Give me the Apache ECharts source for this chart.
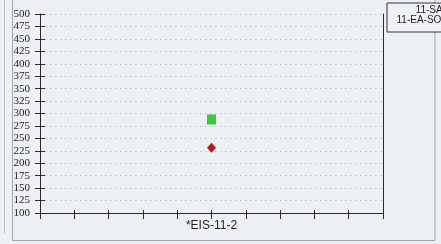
<!DOCTYPE html>
<html>
<head>
<meta charset="utf-8">
<script src="https://cdn.jsdelivr.net/npm/echarts@6/dist/echarts.min.js"></script>
<style>
html,body{margin:0;padding:0;background:#edf1f4;}
#chart{width:441px;height:244px;}
</style>
</head>
<body>
<div id="chart"></div>
<script>
var categories = ['*EIS-11-2'];
var categoryPositions = [5];
var seriesNames = ['11-SAV', '11-EA-SOC'];
var seriesA = [288];
var seriesB = [231];
var yTicks = { min: 100, max: 500, interval: 25 };

var chart = echarts.init(document.getElementById('chart'), null, { renderer: 'canvas' });

function pts(vals) {
  return vals.map(function (v, i) { return [categoryPositions[i], v]; });
}

var axisColor = '#2a2a2a';

chart.setOption({
  backgroundColor: '#edf1f4',
  animation: false,
  grid: { left: 40, right: 58, top: 14, bottom: 31, containLabel: false },
  graphic: [
    { type: 'line', shape: { x1: 4.5, y1: -2, x2: 4.5, y2: 233.5 }, style: { stroke: '#b9bec3', lineWidth: 1 } },
    { type: 'rect', shape: { x: 12.5, y: -5, width: 422.5, height: 245.5 }, style: { stroke: '#a3a7ab', fill: 'none', lineWidth: 1 } }
  ],
  legend: {
    orient: 'vertical',
    left: 387,
    top: 3,
    align: 'right',
    padding: [1.75, 4, 7.25, 9.5],
    itemGap: 0,
    itemWidth: 9,
    itemHeight: 8,
    borderColor: '#333',
    borderWidth: 1,
    borderRadius: 0,
    backgroundColor: '#eef2f5',
    textStyle: { fontFamily: 'Liberation Sans', fontSize: 10, lineHeight: 9.5, color: '#222' },
    data: [
      { name: seriesNames[0], icon: 'rect' },
      { name: seriesNames[1], icon: 'diamond' }
    ]
  },
  xAxis: [
    {
      type: 'value', min: 0, max: 10, interval: 1, position: 'bottom',
      axisLine: { show: true, lineStyle: { color: axisColor, width: 1 } },
      axisTick: { show: true, inside: false, length: 6, lineStyle: { color: axisColor } },
      axisLabel: {
        show: true, margin: 7, fontFamily: 'Liberation Sans', fontSize: 12, color: '#222',
        formatter: function (v) {
          var i = categoryPositions.indexOf(v);
          return i >= 0 ? categories[i] : '';
        }
      },
      splitLine: { show: false }
    },
    {
      type: 'value', min: 0, max: 10, interval: 1, position: 'bottom',
      axisLine: { show: false },
      axisTick: { show: true, inside: true, length: 3, lineStyle: { color: axisColor } },
      axisLabel: { show: false },
      splitLine: { show: false }
    }
  ],
  yAxis: [
    {
      type: 'value', min: yTicks.min, max: yTicks.max, interval: yTicks.interval, position: 'left',
      axisLine: { show: true, lineStyle: { color: axisColor, width: 1 } },
      axisTick: { show: true, inside: false, length: 5, lineStyle: { color: axisColor } },
      axisLabel: { show: true, margin: 10, fontFamily: 'Liberation Serif', fontSize: 11, color: '#222' },
      splitLine: { show: true, lineStyle: { color: '#bfc3c7', type: [1.5, 3.5], width: 1 } }
    },
    {
      type: 'value', min: yTicks.min, max: yTicks.max, interval: yTicks.interval, position: 'left',
      axisLine: { show: false },
      axisTick: { show: true, inside: true, length: 5, lineStyle: { color: axisColor } },
      axisLabel: { show: false },
      splitLine: { show: false }
    },
    {
      type: 'value', min: yTicks.min, max: yTicks.max, interval: yTicks.interval, position: 'right',
      axisLine: { show: true, lineStyle: { color: axisColor, width: 1 } },
      axisTick: { show: false },
      axisLabel: { show: false },
      splitLine: { show: false }
    }
  ],
  series: [
    {
      name: seriesNames[0], type: 'scatter', xAxisIndex: 0, yAxisIndex: 0,
      symbol: 'rect', symbolSize: [9, 10],
      itemStyle: { color: '#33cc33', opacity: 1 },
      data: pts(seriesA)
    },
    {
      name: seriesNames[1], type: 'scatter', xAxisIndex: 0, yAxisIndex: 0,
      symbol: 'diamond', symbolSize: [9, 10],
      itemStyle: { color: '#cc1111', opacity: 1 },
      data: pts(seriesB)
    }
  ]
});
</script>
</body>
</html>
